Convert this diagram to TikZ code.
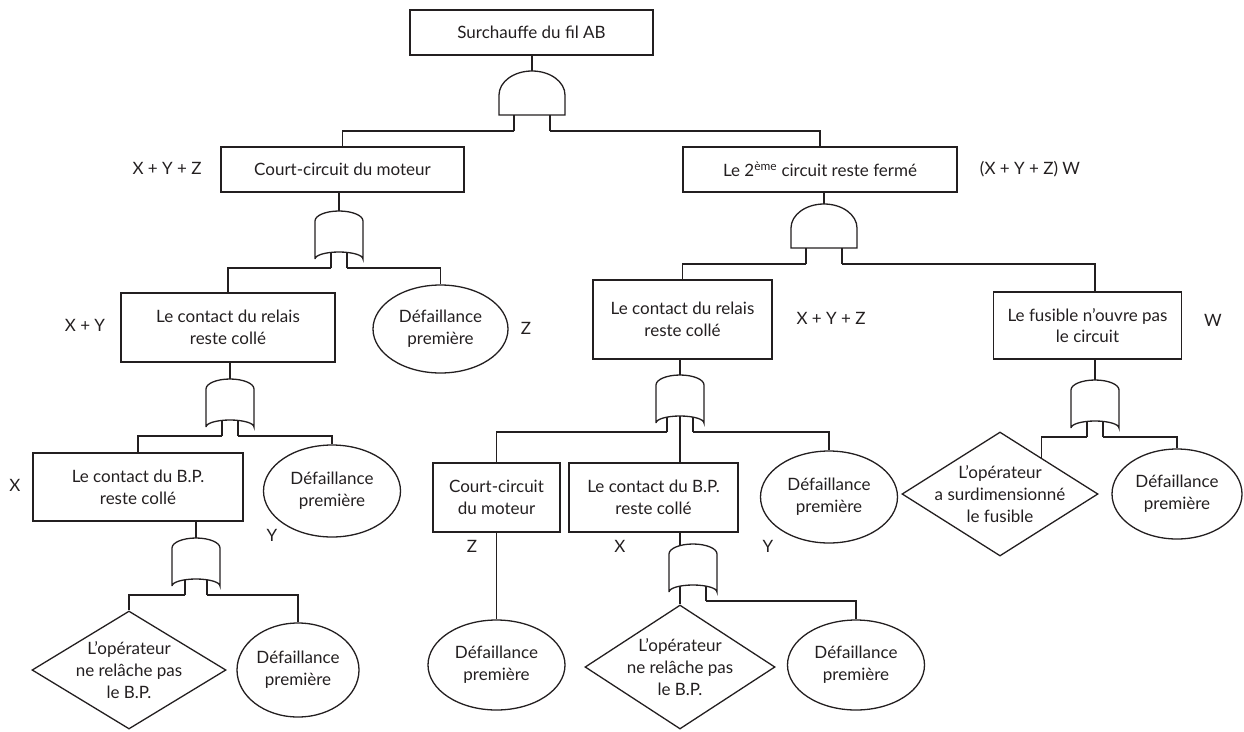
\documentclass[tikz,border=0pt]{standalone}
\usepackage{fontspec}
\setmainfont{Lato}
\usetikzlibrary{shapes.geometric}
\usetikzlibrary{calc}
\definecolor{ink}{HTML}{231F20}
\newcommand{\ftfont}{\fontsize{17}{21.7}\selectfont}
\tikzset{
  evt/.style={draw, rectangle, align=center, inner sep=2pt, font=\ftfont},
  bas/.style={draw, ellipse, align=center, inner sep=0pt, minimum width=137, minimum height=92, font=\ftfont},
  undev/.style={draw, diamond, aspect=1.6, align=center, inner xsep=-34pt, inner ysep=0pt, font=\ftfont},
  lbl/.style={font=\ftfont},
  pics/andgate/.style={code={
    \draw (-33,44) -- (-33,24) arc[start angle=180, end angle=360, x radius=33, y radius=24] -- (33,44) -- cycle;
    \draw (-18,44) -- (-18,60);
    \draw (18,44) -- (18,60);
    \coordinate (-top) at (0,0);
    \coordinate (-in1) at (-18,60);
    \coordinate (-in2) at (18,60);
  }},
  pics/orgate/.style={code={
    \draw (-24,48) -- (-24,10) arc[start angle=180, end angle=360, x radius=24, y radius=10]
      -- (24,48) arc[start angle=360, end angle=180, x radius=24, y radius=7];
    \draw (-#1,{48-7*sqrt(1-(#1/24)^2)}) -- (-#1,57);
    \draw (#1,{48-7*sqrt(1-(#1/24)^2)}) -- (#1,57);
    \coordinate (-top) at (0,0);
    \coordinate (-mid) at (0,41);
    \coordinate (-in1top) at (-#1,{10-10*sqrt(1-(#1/24)^2)});
    \coordinate (-in1) at (-#1,57);
    \coordinate (-in2) at (#1,57);
  }},
}
\begin{document}
\begin{tikzpicture}[x=1pt, y=-1pt, color=ink, line width=1.3pt]
\useasboundingbox (0,0) rectangle (1244,731);

% evenements
\node[evt, minimum width=243, minimum height=45] (top) at (531.5,32.5) {Surchauffe du fil AB};
\node[evt, minimum width=243, minimum height=45] (court) at (342.5,169.5) {Court-circuit du moteur};
\node[evt, minimum width=274, minimum height=45] (deux) at (820,169.5) {Le 2\textsuperscript{ème} circuit reste fermé};
\node[evt, minimum width=214, minimum height=69] (relL) at (228,327.5) {Le contact du relais\\reste collé};
\node[evt, minimum width=179, minimum height=79] (relM) at (682.5,319.5) {Le contact du relais\\reste collé};
\node[evt, minimum width=188, minimum height=67] (fus) at (1087.5,325.5) {Le fusible n’ouvre pas\\le circuit};
\node[evt, minimum width=210, minimum height=68] (bpL) at (138,487) {Le contact du B.P.\\reste collé};
\node[evt, minimum width=127, minimum height=69] (ccM) at (496.5,497.5) {Court-circuit\\du moteur};
\node[evt, minimum width=169, minimum height=69] (bpM) at (653.5,497.5) {Le contact du B.P.\\reste collé};

% defaillances premieres
\node[bas, minimum width=135, minimum height=88] (bZ) at (440.5,329) {Défaillance\\première};
\node[bas] (bYL) at (332,491) {Défaillance\\première};
\node[bas] (bYM) at (829,497) {Défaillance\\première};
\node[bas, minimum width=122, minimum height=94] (bL) at (298,670) {Défaillance\\première};
\node[bas, minimum height=90] (bM1) at (496.5,665) {Défaillance\\première};
\node[bas, minimum height=90] (bM2) at (856,665) {Défaillance\\première};
\node[bas, minimum width=130, minimum height=90] (bR) at (1177,494) {Défaillance\\première};

% non developpes
\node[undev, minimum width=194, minimum height=118] (dL) at (129,670) {L’opérateur\\ne relâche pas\\le B.P.};
\node[undev, minimum width=190, minimum height=124] (dM) at (680,667) {L’opérateur\\ne relâche pas\\le B.P.};
\node[undev, minimum width=196, minimum height=124] (dR) at (1000,494) {L’opérateur\\a surdimensionné\\le fusible};

% portes
\pic (gT) at (532,71) {andgate};
\pic (gR) at (824,204) {andgate};
\pic (gC) at (339,211) {orgate=8};
\pic (gRelL) at (230,379) {orgate=8};
\pic (gBpL) at (196,538) {orgate=11};
\pic (gRelM) at (680,375) {orgate=13};
\pic (gBpM) at (693,544) {orgate=13};
\pic (gFus) at (1095,380) {orgate=8};

% liaisons
\draw (gT-top |- top.south) -- (gT-top);
\draw (gT-in1) -| (court.north);
\draw (gT-in2) -| (deux.north);
\draw (gC-top |- court.south) -- (gC-top);
\draw (gC-in1) -| (relL.north);
\draw (gC-in2) -| (bZ.north);
\draw (gRelL-top |- relL.south) -- (gRelL-top);
\draw (gRelL-in1) -| (bpL.north);
\draw (gRelL-in2) -| (bYL.north);
\draw (gBpL-top |- bpL.south) -- (gBpL-top);
\draw (gBpL-in1) -| (dL.north);
\draw (gBpL-in2) -| (bL.north);

\draw (gR-top |- deux.south) -- (gR-top);
\draw (gR-in1) -| (relM.north);
\draw (gR-in2) -| (gFus-top |- fus.north);
\draw (gRelM-top |- relM.south) -- (gRelM-top);
\draw (gRelM-in1) -| (ccM.north);
\draw (gRelM-mid) -- (gRelM-mid |- bpM.north);
\draw (gRelM-in2) -| (bYM.north);
\draw (ccM.south) -- (bM1.north);
\draw (gBpM-in1top |- bpM.south) -- (gBpM-in1top);
\draw (gBpM-in1) -- (dM.north);
\draw (gBpM-in2) -| (bM2.north);
\draw (gFus-top |- fus.south) -- (gFus-top);
\draw (gFus-in1) -| ($(dR.north)!0.42!(dR.east)$);
\draw (gFus-in2) -| (bR.north);

% expressions
\node[lbl] (eCourt) at (167,168) {X + Y + Z};
\node[lbl] (eDeux) at (1030,169) {(X + Y + Z) W};
\node[lbl] (eRelL) at (85,325) {X + Y};
\node[lbl] (eZ) at (526,328) {Z};
\node[lbl] (eRelM) at (831,318) {X + Y + Z};
\node[lbl] (eW) at (1213,320) {W};
\node[lbl] (eX) at (15,485) {X};
\node[lbl] (eYL) at (272,535) {Y};
\node[lbl] (eZM) at (472,546) {Z};
\node[lbl] (eXM) at (620,546) {X};
\node[lbl] (eYM) at (768,546) {Y};

\end{tikzpicture}
\end{document}
